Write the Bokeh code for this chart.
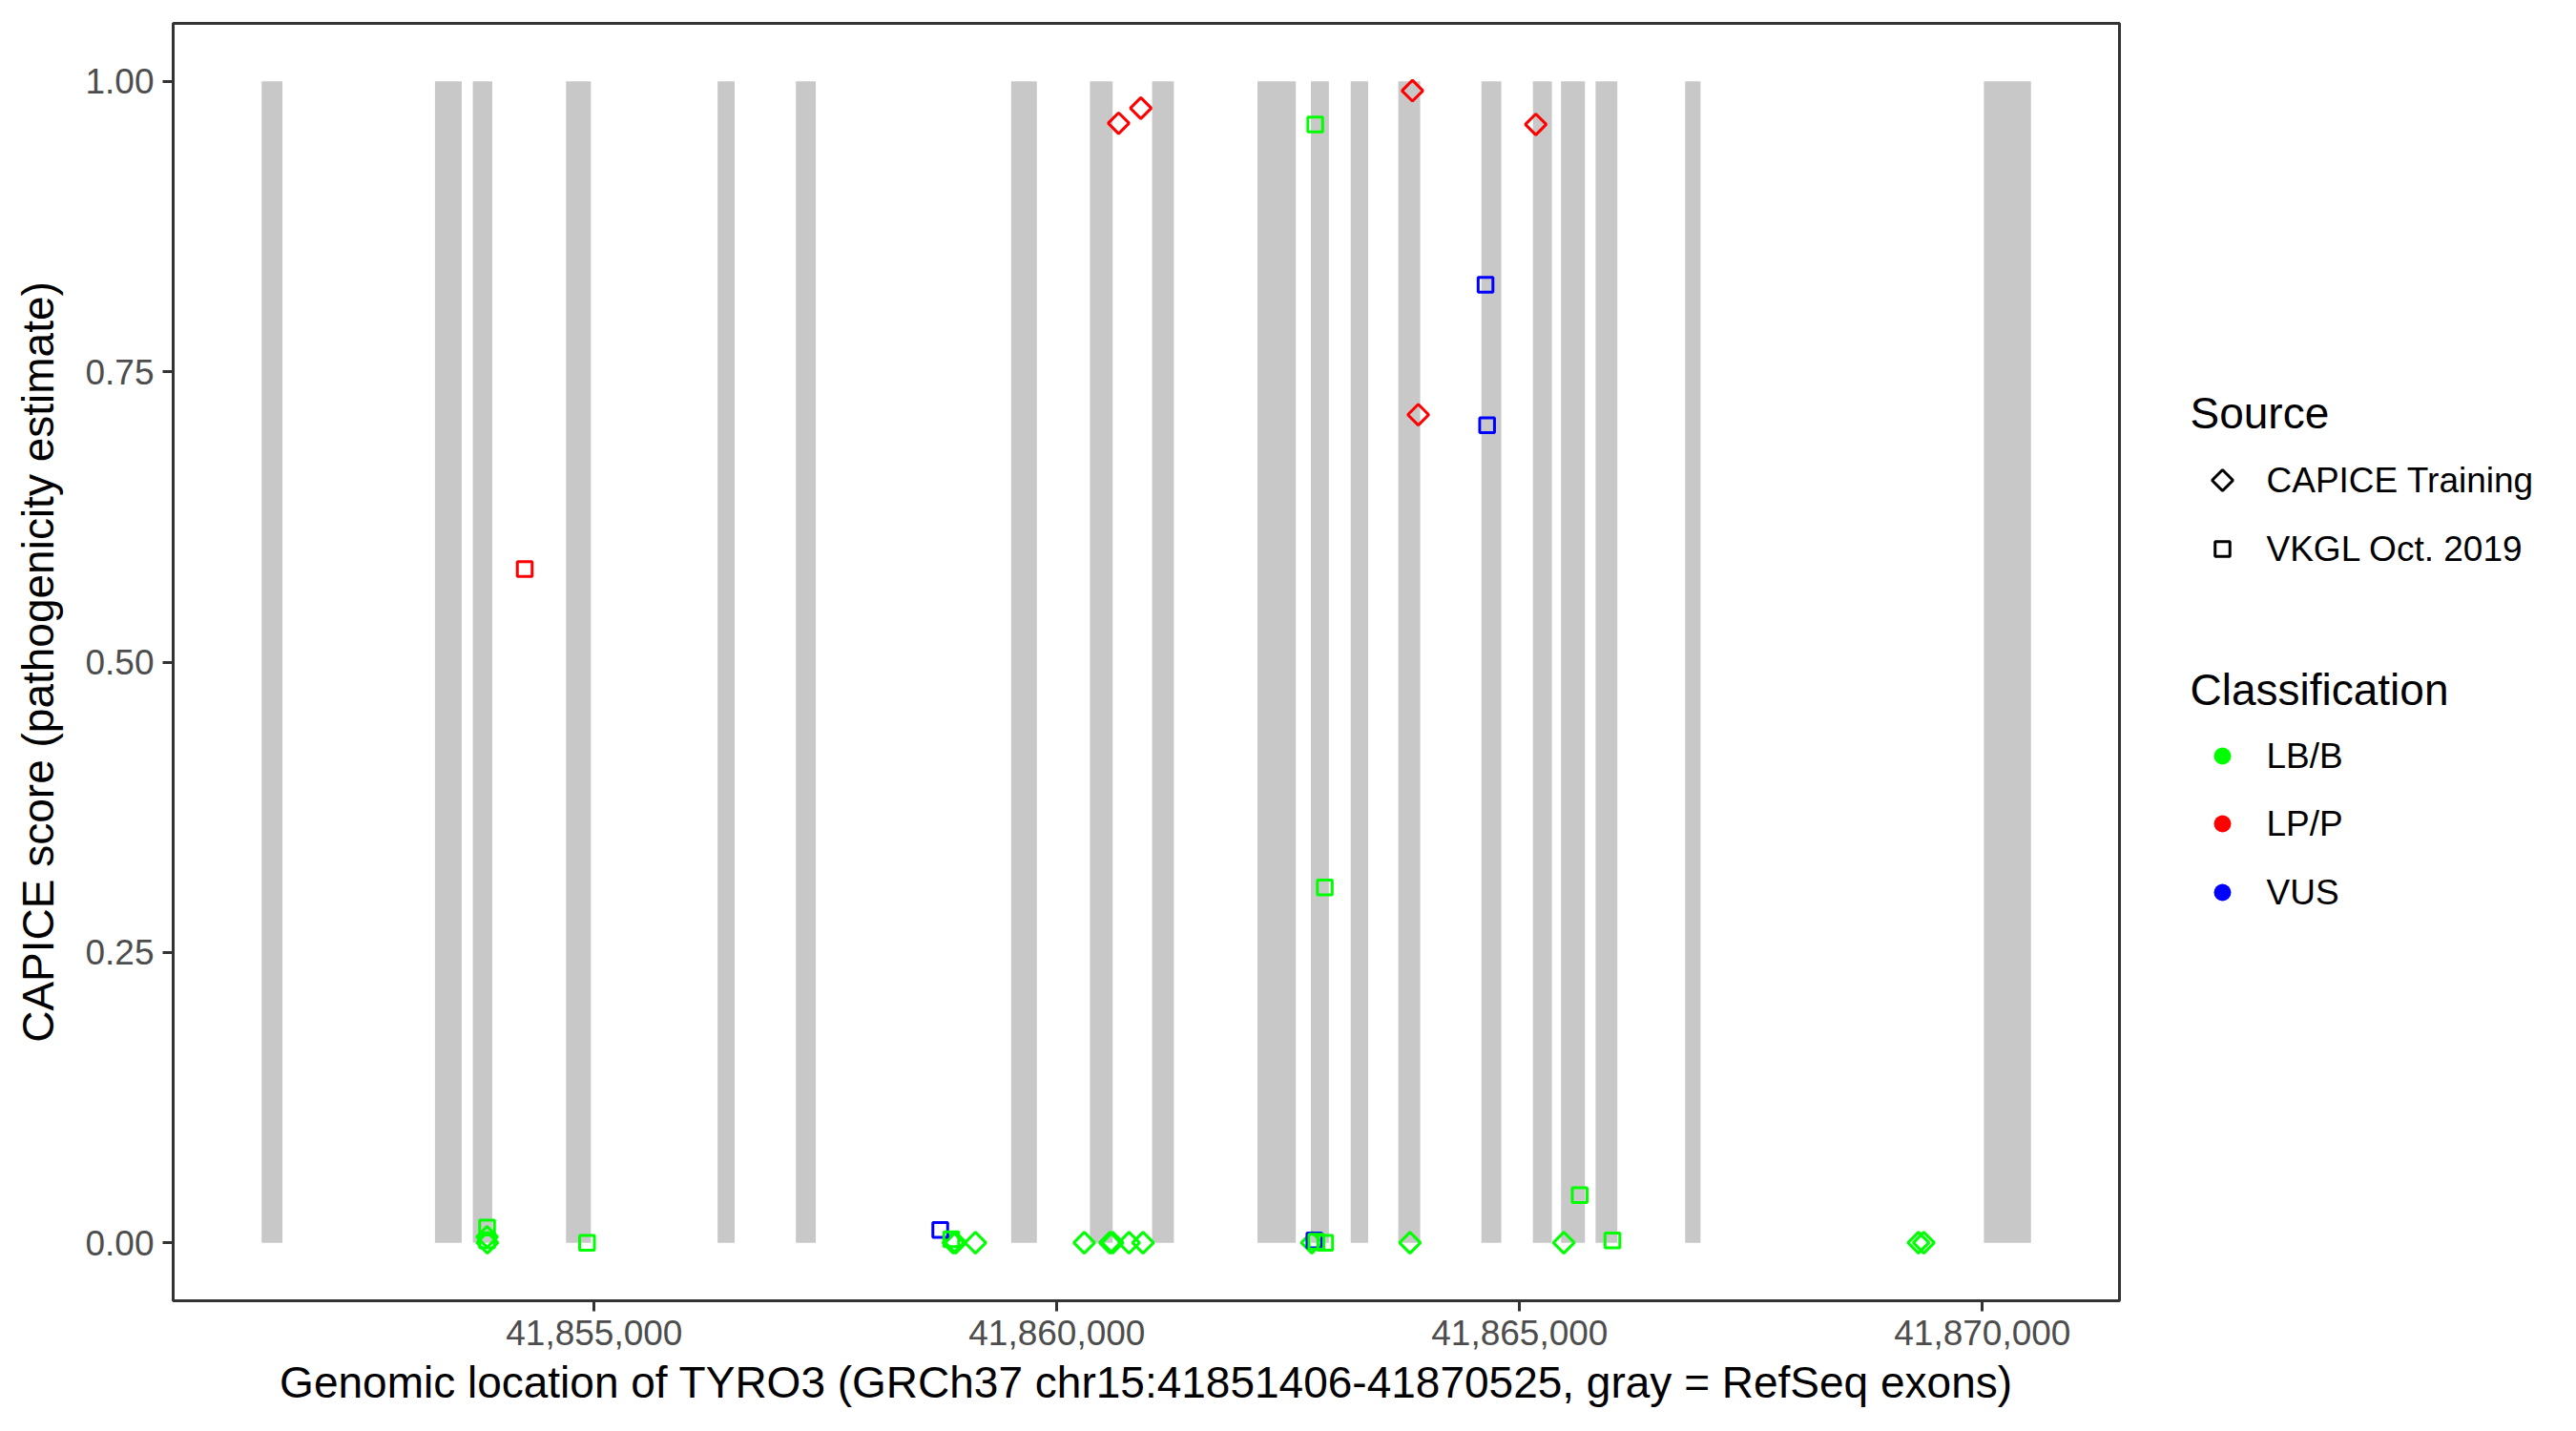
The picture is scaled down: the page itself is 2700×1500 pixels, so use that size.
import math
from bokeh.plotting import figure
from bokeh.models import Range1d, FixedTicker, NumeralTickFormatter
from bokeh.layouts import row
from bokeh.embed import file_html
from bokeh.resources import INLINE
from bokeh.core.properties import value

FONT = "Liberation Sans"

# Gene region (GRCh37 chr15)
GENE_START = 41851406
GENE_END = 41870525

# RefSeq exons (gray bars)
exon_start = [41851406, 41853279, 41853688, 41854695, 41856333, 41857179, 41859505,
              41860356, 41861028, 41862167, 41862744, 41863174, 41863688, 41864586,
              41865143, 41865447, 41865820, 41866788, 41870016]
exon_end = [41851631, 41853568, 41853898, 41854964, 41856517, 41857394, 41859783,
            41860602, 41861263, 41862581, 41862938, 41863363, 41863925, 41864801,
            41865348, 41865705, 41866055, 41866954, 41870525]

# CAPICE Training variants (diamonds)
capice_pos = [41853842, 41853845, 41858880, 41858905, 41859119, 41860295, 41860573,
              41860601, 41860779, 41860930, 41860666, 41860906, 41862754, 41863814,
              41863841, 41863904, 41865174, 41865477, 41869309, 41869367]
capice_score = [0.005, 0.000, 0.000, 0.000, 0.000, 0.000, 0.000,
                0.000, 0.000, 0.000, 0.964, 0.977, 0.000, 0.000,
                0.992, 0.713, 0.963, 0.000, 0.000, 0.000]
capice_class = ["LB/B", "LB/B", "LB/B", "LB/B", "LB/B", "LB/B", "LB/B",
                "LB/B", "LB/B", "LB/B", "LP/P", "LP/P", "LB/B", "LB/B",
                "LP/P", "LP/P", "LP/P", "LB/B", "LB/B", "LB/B"]

# VKGL Oct. 2019 variants (squares)
vkgl_pos = [41853842, 41853842, 41854249, 41854922, 41858739, 41858858, 41862782,
            41862791, 41862803, 41862894, 41862898, 41864631, 41864648, 41865648,
            41866002]
vkgl_score = [0.013, 0.002, 0.580, 0.000, 0.011, 0.003, 0.002,
              0.963, 0.001, 0.306, 0.000, 0.825, 0.704, 0.041,
              0.002]
vkgl_class = ["LB/B", "LB/B", "LP/P", "LB/B", "VUS", "LB/B", "VUS",
              "LB/B", "LB/B", "LB/B", "LB/B", "VUS", "VUS", "LB/B",
              "LB/B"]

class_names = ["LB/B", "LP/P", "VUS"]
class_colors = ["#00FF00", "#FF0000", "#0000FF"]
source_names = ["CAPICE Training", "VKGL Oct. 2019"]

x_ticks = [41855000, 41860000, 41865000, 41870000]
y_ticks = [0.0, 0.25, 0.50, 0.75, 1.00]

x_title = "Genomic location of TYRO3 (GRCh37 chr15:%d-%d, gray = RefSeq exons)" % (GENE_START, GENE_END)
y_title = "CAPICE score (pathogenicity estimate)"

cmap = dict(zip(class_names, class_colors))

# layout (page pixels)
MAIN_W, H = 2230, 1484
FR_LEFT, FR_TOP, FR_RIGHT, FR_BOTTOM = 181, 24, 2221, 1363

pad = 0.05 * (GENE_END - GENE_START)
p = figure(width=MAIN_W, height=H, output_backend="svg", toolbar_location=None,
           x_range=Range1d(GENE_START - pad, GENE_END + pad),
           y_range=Range1d(-0.05, 1.05),
           min_border_left=FR_LEFT, min_border_top=FR_TOP,
           min_border_right=MAIN_W - FR_RIGHT, min_border_bottom=H - FR_BOTTOM)
p.grid.visible = False
p.outline_line_color = "#333333"
p.outline_line_width = 3
p.background_fill_color = "white"
p.border_fill_color = "white"

p.quad(left=exon_start, right=exon_end, bottom=0, top=1,
       fill_color="#C8C8C8", line_color=None)

p.scatter(x=capice_pos, y=capice_score, marker="square", angle=math.pi / 4,
          size=15.5, fill_color=None, line_width=3,
          line_color=[cmap[c] for c in capice_class])
p.scatter(x=vkgl_pos, y=vkgl_score, marker="square",
          size=15.5, fill_color=None, line_width=3,
          line_color=[cmap[c] for c in vkgl_class])

p.xaxis.ticker = FixedTicker(ticks=x_ticks)
p.xaxis.formatter = NumeralTickFormatter(format="0,0")
p.yaxis.ticker = FixedTicker(ticks=y_ticks)
p.yaxis.formatter = NumeralTickFormatter(format="0.00")
p.xaxis.axis_label = x_title
p.yaxis.axis_label = y_title
for ax in (p.xaxis, p.yaxis):
    ax.axis_line_color = None
    ax.major_tick_line_color = "#333333"
    ax.major_tick_line_width = 3
    ax.major_tick_out = 11
    ax.major_tick_in = 0
    ax.minor_tick_line_color = None
    ax.major_label_standoff = 9
    ax.major_label_text_font = FONT
    ax.major_label_text_font_size = "37px"
    ax.major_label_text_color = "#4D4D4D"
    ax.axis_label_text_font = FONT
    ax.axis_label_text_font_size = "46px"
    ax.axis_label_text_font_style = "normal"
    ax.axis_label_text_color = "black"
p.xaxis.axis_label_standoff = 10
p.yaxis.axis_label_standoff = 20

# Legend panel (its frame is aligned with the main frame vertically;
# ranges are expressed in page pixels)
LW = 2684 - MAIN_W
leg = figure(width=LW, height=H, output_backend="svg", toolbar_location=None,
             x_range=Range1d(MAIN_W, MAIN_W + LW), y_range=Range1d(FR_BOTTOM, FR_TOP),
             x_axis_type=None, y_axis_type=None, min_border=0,
             min_border_top=FR_TOP, min_border_bottom=H - FR_BOTTOM)
leg.grid.visible = False
leg.outline_line_color = None
leg.background_fill_color = "white"
leg.border_fill_color = "white"

tx, kx, lx = 2295, 2329, 2375
leg.text(x=[tx, tx], y=[432, 722], text=["Source", "Classification"],
         text_font=value(FONT), text_font_size="46px", text_color="black",
         text_baseline="middle", text_align="left")
leg.text(x=[lx] * 5, y=[503, 575, 792, 863, 935], text=source_names + class_names,
         text_font=value(FONT), text_font_size="37px", text_color="black",
         text_baseline="middle", text_align="left")
leg.scatter(x=[kx], y=[503], marker="square", angle=math.pi / 4, size=15.5,
            fill_color=None, line_color="black", line_width=3)
leg.scatter(x=[kx], y=[575], marker="square", size=15.5,
            fill_color=None, line_color="black", line_width=3)
leg.scatter(x=[kx] * 3, y=[792, 863, 935], marker="circle", size=18,
            fill_color=class_colors, line_color=None)

layout = row(p, leg)
open("out.html", "w").write(file_html(layout, INLINE))
